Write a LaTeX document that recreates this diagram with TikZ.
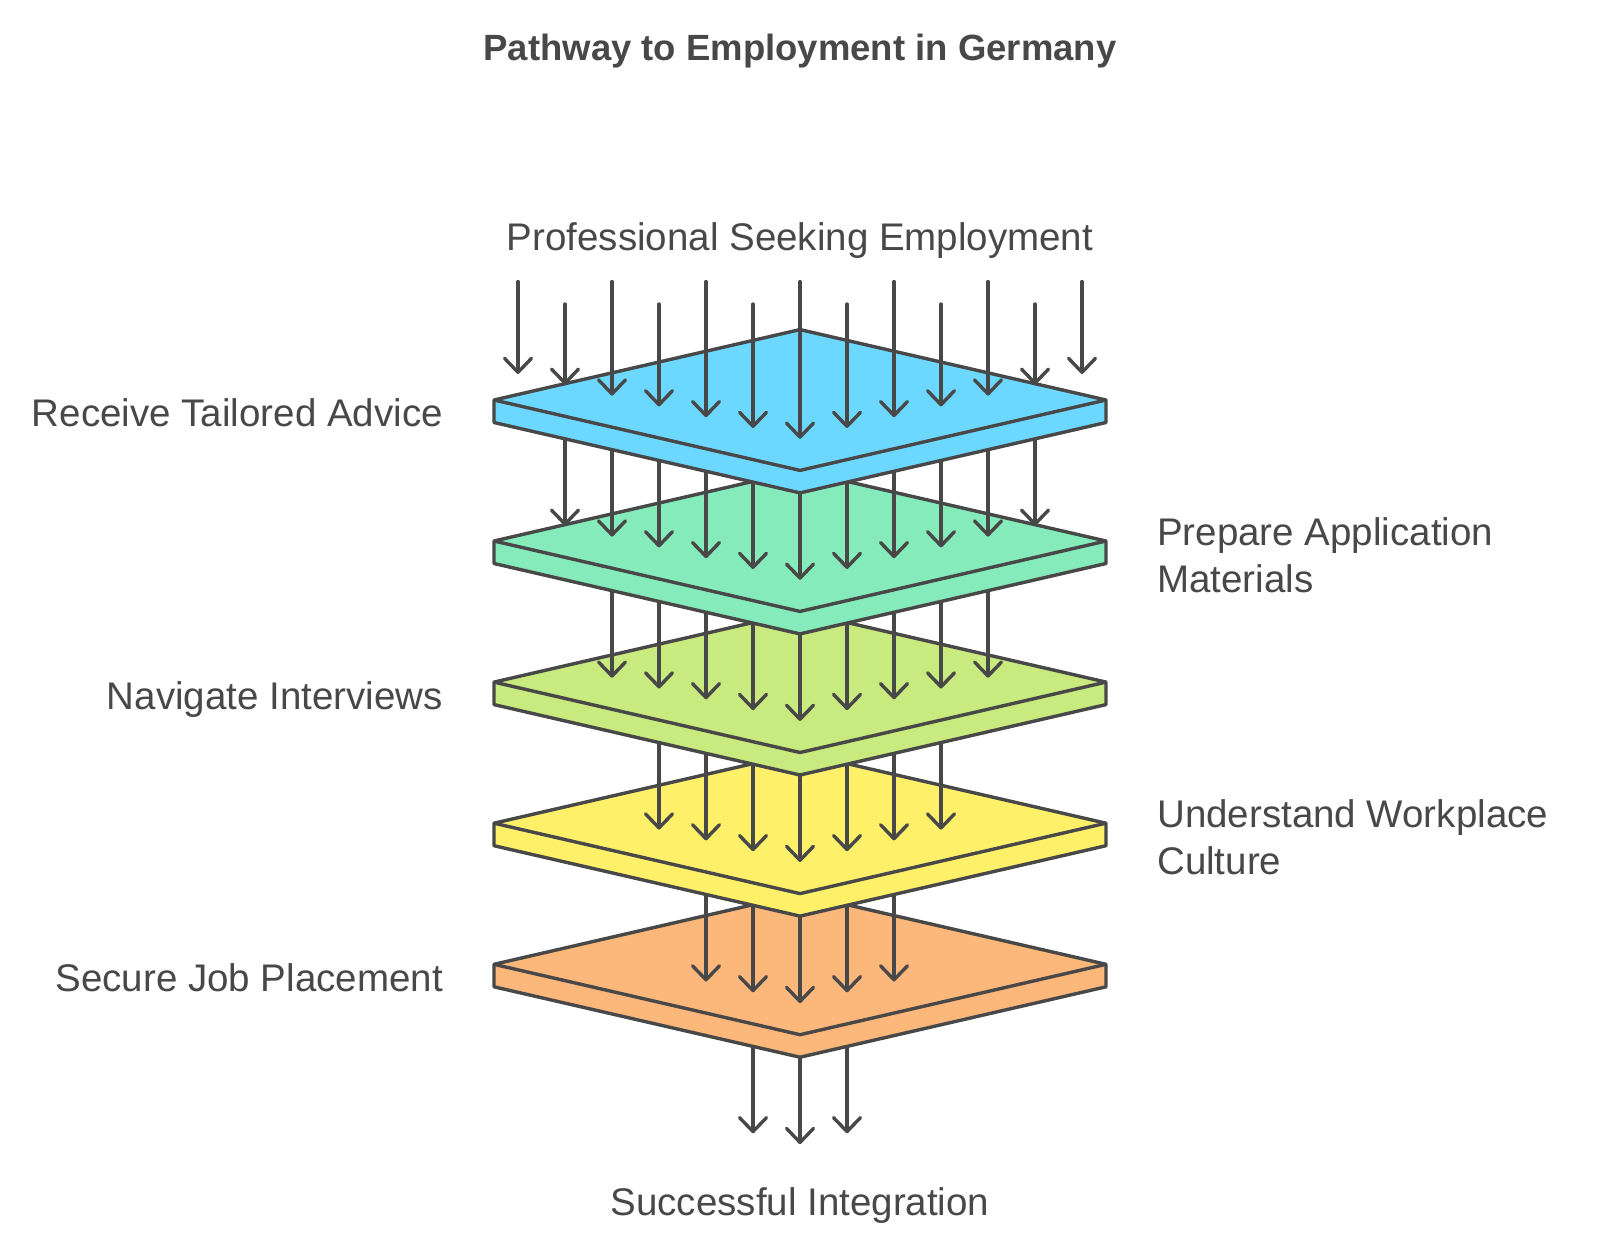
\documentclass[tikz,border=0pt]{standalone}
\usepackage{fontspec}
\setmainfont{Liberation Sans}
\usetikzlibrary{arrows.meta}
\definecolor{ink}{HTML}{484848}
\definecolor{pblue}{HTML}{6DD8FF}
\definecolor{pmint}{HTML}{86EBBB}
\definecolor{plime}{HTML}{C8EA7E}
\definecolor{pyellow}{HTML}{FFF06A}
\definecolor{porange}{HTML}{FCB77A}
\tikzset{
  plate/.style={draw=ink, line width=3.4pt, line join=round},
  arr/.style={draw=ink, line width=3.4pt, line cap=round,
    -{Straight Barb[length=14pt,width=27pt,round]}},
  lbl/.style={text=ink, font=\fontsize{38.5}{47}\selectfont, inner sep=0pt},
  ttl/.style={text=ink, font=\fontsize{36.5}{44}\selectfont\bfseries, inner sep=0pt}
}
\newcommand\drawplate[2]{%
  \draw[plate, fill=#2] (494,#1) -- (800,{#1-70.4}) -- (1106,#1) -- (1106,{#1+22.5})
    -- (800,{#1+92.9}) -- (494,{#1+22.5}) -- cycle;
  \draw[plate] (494,#1) -- (800,{#1+70.4}) -- (1106,#1);}
\newcommand\arrowrow[3]{%
  \foreach \k in {-#2,...,#2}{%
    \pgfmathsetmacro\ex{800+47*\k}%
    \pgfmathsetmacro\ey{#1+38.8-10.8*abs(\k)}%
    \draw[arr] (\ex,#3) -- (\ex,\ey);
  }}
\newcommand\toprow[2]{%
  \foreach \k in {-#2,...,#2}{%
    \pgfmathsetmacro\ex{800+47*\k}%
    \pgfmathsetmacro\ey{#1+38.8-10.8*abs(\k)}%
    \pgfmathsetmacro\sy{ifthenelse(mod(abs(\k),2)==0,281.6,304)}%
    \draw[arr] (\ex,\sy) -- (\ex,\ey);
  }}
\begin{document}
\begin{tikzpicture}[x=1pt,y=-1pt]
\useasboundingbox[fill=white] (0,0) rectangle (1600,1247);
% output arrows (behind plate 5)
\arrowrow{1105.3}{1}{974}
\drawplate{964.3}{porange}
\arrowrow{964.3}{2}{832}
\drawplate{823.2}{pyellow}
\arrowrow{823.2}{3}{692}
\drawplate{682.1}{plime}
\arrowrow{682.1}{4}{551}
\drawplate{541}{pmint}
\arrowrow{541}{5}{410}
\drawplate{400}{pblue}
\toprow{400}{6}
% labels
\node[ttl, anchor=base] (title) at (800,61) {Pathway to Employment in Germany};
\node[lbl, anchor=base] (start) at (800,250) {Professional Seeking Employment};
\node[lbl, anchor=base east] (l1) at (443,426) {Receive Tailored Advice};
\node[lbl, anchor=base west, align=left] (l2) at (1157,592) {Prepare Application\\Materials};
\node[lbl, anchor=base east] (l3) at (443,709) {Navigate Interviews};
\node[lbl, anchor=base west, align=left] (l4) at (1157,874) {Understand Workplace\\Culture};
\node[lbl, anchor=base east] (l5) at (443,991) {Secure Job Placement};
\node[lbl, anchor=base] (finish) at (800,1215) {Successful Integration};
\end{tikzpicture}
\end{document}
